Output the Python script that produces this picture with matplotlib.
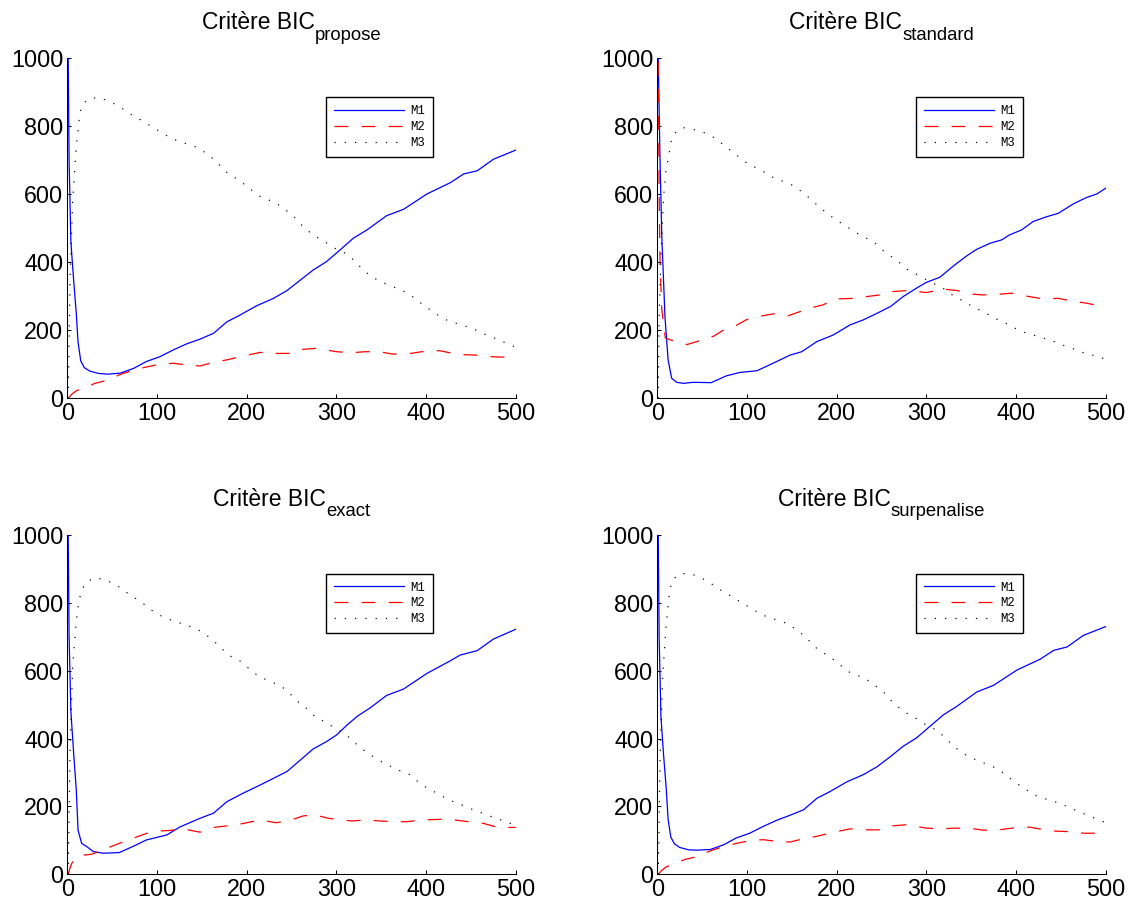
import matplotlib
matplotlib.use("Agg")
import matplotlib.pyplot as plt
from matplotlib.transforms import IdentityTransform

plt.rcParams['font.family'] = ['Liberation Sans', 'DejaVu Sans']
plt.rcParams['lines.scale_dashes'] = False

# --- BIC propose ---
propose_m1_x = [1, 2, 4, 7, 10, 12, 15, 19, 25, 35, 45, 59, 74, 88, 103, 118, 133, 148, 163, 178, 192, 211,
                230, 245, 260, 274, 289, 304, 319, 334, 356, 375, 401, 427, 442, 457, 475, 500]
propose_m1_y = [1000, 700, 460, 350, 250, 165, 110, 90, 80, 73, 71, 74, 88, 108, 122, 142, 160, 174, 191, 225, 244, 272,
                294, 317, 348, 377, 402, 436, 471, 495, 537, 556, 601, 634, 660, 669, 703, 730]
propose_m2_x = [1, 5, 10, 16, 31, 46, 59, 74, 88, 103, 118, 133, 148, 163, 178, 194, 215, 233, 248, 263, 278,
                300, 317, 332, 348, 363, 378, 395, 415, 434, 445, 456, 475, 500]
propose_m2_y = [0, 12, 22, 28, 44, 54, 70, 83, 92, 100, 103, 98, 95, 106, 113, 123, 135, 132, 132, 144, 147,
                137, 134, 137, 137, 130, 130, 137, 140, 130, 128, 127, 122, 120]
propose_m3_x = [1, 3, 6, 10, 14, 17, 24.5, 36, 47, 57, 66, 75, 85, 95, 104, 114, 125, 135, 146, 155, 165, 173, 181,
                191, 200, 213, 223, 233, 252, 259, 268, 278, 287, 297, 312, 321, 329, 338, 347, 359, 369, 380, 390,
                399, 412, 421, 432, 443, 455, 466, 477, 488, 500]
propose_m3_y = [0, 338, 583, 740, 838, 865, 882, 884, 873, 860, 844, 828, 815, 797, 784, 767, 755, 747, 737, 720, 700,
                676, 657, 643, 624, 596, 585, 574, 537, 515, 493, 474, 461, 443, 424, 402, 380, 360, 346, 332, 322,
                309, 289, 270, 247, 232, 222, 213, 201, 188, 176, 164, 150]

# --- BIC standard ---
standard_m1_x = [1, 3, 5, 8.5, 12, 16, 21.5, 29, 40, 60, 77, 92, 111, 129, 148, 161, 178, 196, 215, 230, 245, 260,
                 274, 289, 300, 315, 330, 345, 356, 371, 384, 393, 406, 419, 434, 447, 464, 478, 490, 500]
standard_m1_y = [1000, 700, 475, 240, 113, 59, 47, 44, 47, 46, 66, 76, 81, 103, 127, 137, 167, 186, 216, 231, 250,
                 270, 299, 324, 341, 356, 389, 419, 438, 456, 466, 481, 495, 520, 534, 544, 572, 590, 601, 618]
standard_m2_x = [1, 2, 3, 5, 9, 20, 33, 48, 63, 74, 87, 100, 118, 133, 146, 157, 170, 185, 198, 219, 233, 248, 263,
                 280, 300, 319, 334, 348, 363, 380, 395, 415, 431, 447, 464, 478, 500]
standard_m2_y = [990, 600, 400, 260, 177, 167, 158, 170, 183, 201, 213, 232, 243, 250, 243, 253, 265, 275, 292, 294,
                 299, 304, 314, 317, 311, 321, 317, 307, 304, 306, 309, 299, 292, 294, 285, 280, 268]
standard_m3_x = [1, 2, 4, 7, 10, 13, 14, 17, 23, 29, 38, 49, 59, 68, 77, 86, 94, 103, 114, 124, 133, 142, 152, 161,
                 170, 178, 186, 196, 204, 214, 223, 233, 243, 251, 260, 270, 278, 287, 297, 306, 314, 323, 331, 343,
                 352, 364, 373, 382, 391, 401, 412, 423, 434, 446, 456, 468, 477, 488, 500]
standard_m3_y = [0, 240, 417, 593, 681, 711, 742, 772, 789, 796, 792, 785, 774, 758, 738, 721, 703, 686, 674, 657,
                 644, 637, 625, 608, 588, 569, 551, 531, 517, 500, 485, 471, 456, 436, 419, 399, 380, 368, 353, 340,
                 330, 317, 299, 284, 268, 254, 240, 228, 218, 203, 191, 183, 174, 164, 152, 142, 132, 125, 115]

# --- BIC exact ---
exact_m1_x = [1, 2, 4, 7, 10, 12, 16, 21.5, 29, 40, 58, 74, 88, 111, 126, 148, 163, 178, 196, 215, 230, 245, 260,
              274, 289, 300, 312, 323, 338, 356, 375, 401, 427, 438, 457, 475, 500]
exact_m1_y = [1000, 700, 480, 360, 250, 130, 91, 82, 67, 62, 64, 83, 101, 116, 140, 165, 180, 214, 239, 263, 283,
              303, 337, 369, 391, 410, 440, 465, 491, 527, 546, 592, 629, 646, 659, 693, 722]
exact_m2_x = [1, 3, 5, 8.5, 13, 27, 40, 55, 68, 92, 105, 114, 129, 148, 163, 176, 193, 215, 233, 246, 263, 276, 291,
              317, 332, 349, 364, 378, 395, 416, 432, 447, 464, 479, 490, 500]
exact_m2_y = [0, 18, 32, 47, 55, 59, 72, 88, 101, 124, 128, 129, 134, 124, 138, 142, 148, 160, 152, 157, 172, 175,
              165, 157, 160, 157, 155, 155, 160, 162, 160, 155, 150, 139, 138, 138]
exact_m3_x = [1, 3, 6, 10, 13, 16, 21, 30, 40, 51, 60, 70, 79, 88, 97, 105, 114, 125, 135, 145, 155, 164, 173, 181,
              191, 200, 213, 223, 233, 243, 251, 259, 269, 277, 287, 297, 311, 320, 329, 339, 349, 359, 369, 380,
              389, 399, 410, 422, 433, 445, 456, 467, 477, 488, 500]
exact_m3_y = [0, 350, 617, 745, 804, 838, 860, 874, 869, 858, 843, 823, 808, 791, 772, 761, 751, 741, 732, 722, 705,
              686, 663, 644, 632, 612, 584, 572, 561, 546, 525, 504, 484, 462, 450, 433, 411, 389, 369, 350, 334,
              320, 307, 297, 277, 258, 242, 224, 211, 199, 186, 177, 165, 157, 143]

# --- BIC surpenalise ---
surpen_m1_x = [1, 2, 4, 7, 10, 12, 15, 19, 25, 35, 45, 59, 74, 88, 103, 118, 133, 148, 163, 178, 192, 211,
               230, 245, 260, 274, 289, 304, 319, 334, 356, 375, 401, 427, 442, 457, 475, 500]
surpen_m1_y = [1000, 700, 465, 350, 250, 162, 110, 90, 79, 72, 71, 73, 87, 107, 121, 141, 159, 174, 190, 224, 243,
               272, 294, 317, 347, 377, 402, 436, 470, 495, 537, 557, 602, 634, 660, 670, 704, 730]
surpen_m2_x = [1, 5, 10, 16, 31, 46, 59, 74, 88, 103, 118, 133, 148, 163, 178, 194, 215, 233, 248, 263, 278,
               300, 317, 332, 348, 363, 378, 395, 415, 434, 445, 456, 475, 500]
surpen_m2_y = [0, 12, 22, 28, 44, 53, 69, 82, 91, 99, 102, 97, 95, 105, 112, 122, 134, 131, 131, 143, 146,
               136, 134, 136, 136, 130, 130, 136, 139, 130, 127, 126, 121, 121]
surpen_m3_x = [1, 3, 6, 10, 14, 17, 24.5, 36, 47, 57, 66, 75, 85, 95, 104, 114, 125, 135, 146, 155, 165, 173, 181,
               191, 200, 213, 223, 233, 252, 259, 268, 278, 287, 297, 312, 321, 329, 338, 347, 359, 369, 380, 390,
               399, 412, 421, 432, 443, 455, 466, 477, 488, 500]
surpen_m3_y = [0, 340, 585, 742, 840, 868, 885, 887, 876, 862, 846, 830, 816, 798, 785, 768, 756, 748, 738, 720, 701,
               677, 658, 644, 625, 597, 586, 575, 538, 516, 494, 475, 462, 444, 424, 402, 381, 361, 347, 333, 323,
               310, 290, 271, 248, 233, 223, 214, 202, 189, 177, 165, 152]

labels = ['M1', 'M2', 'M3']
x_ticks = [0, 100, 200, 300, 400, 500]
y_ticks = [0, 200, 400, 600, 800, 1000]

panels = [
    ('propose', [0.0595, 0.5628, 0.3965, 0.3732],
     [(propose_m1_x, propose_m1_y), (propose_m2_x, propose_m2_y), (propose_m3_x, propose_m3_y)]),
    ('standard', [0.5812, 0.5628, 0.3965, 0.3732],
     [(standard_m1_x, standard_m1_y), (standard_m2_x, standard_m2_y), (standard_m3_x, standard_m3_y)]),
    ('exact', [0.0595, 0.0403, 0.3965, 0.3725],
     [(exact_m1_x, exact_m1_y), (exact_m2_x, exact_m2_y), (exact_m3_x, exact_m3_y)]),
    ('surpenalise', [0.5812, 0.0403, 0.3965, 0.3725],
     [(surpen_m1_x, surpen_m1_y), (surpen_m2_x, surpen_m2_y), (surpen_m3_x, surpen_m3_y)]),
]


def add_title(fig, ax, main, sub):
    # title with a bigger subscript than mathtext allows, placed in pixels
    renderer = fig.canvas.get_renderer()
    box = ax.get_window_extent(renderer)
    xc = (box.x0 + box.x1) / 2
    yb = box.y1 + 29
    t1 = fig.text(0, yb, main, fontsize=16.5, va='baseline', ha='left', transform=IdentityTransform())
    t2 = fig.text(0, yb - 10.5, sub, fontsize=13.3, va='baseline', ha='left', transform=IdentityTransform())
    w1 = t1.get_window_extent(renderer).width
    w2 = t2.get_window_extent(renderer).width
    x0 = xc - (w1 + w2) / 2
    t1.set_x(x0)
    t2.set_x(x0 + w1)


def plot_panel(fig, rect, name, series):
    ax = fig.add_axes(rect)
    (x1, y1), (x2, y2), (x3, y3) = series
    ax.plot(x1, y1, color='#0000ff', lw=0.9, label=labels[0])
    ax.plot(x2, y2, color='#ff0000', lw=0.9, linestyle=(0, (10, 9.5)), label=labels[1])
    ax.plot(x3, y3, color='black', lw=0.85, linestyle=(0, (0.9, 6.5)), label=labels[2])

    ax.set_xlim(0, 500)
    ax.set_ylim(0, 1000)
    ax.set_xticks(x_ticks)
    ax.set_yticks(y_ticks)
    ax.tick_params(direction='in', length=3, width=0.75, labelsize=16.8, pad=3)
    for side in ('top', 'right'):
        ax.spines[side].set_visible(False)
    for side in ('left', 'bottom'):
        ax.spines[side].set_linewidth(0.75)

    add_title(fig, ax, 'Critère BIC', name)

    leg = ax.legend(loc='upper left', bbox_to_anchor=(0.577, 0.886), borderaxespad=0,
                    prop={'family': 'Liberation Mono', 'size': 8.8},
                    handlelength=5.7, handletextpad=0.55, labelspacing=0.32,
                    borderpad=0.65, fancybox=False, framealpha=1)
    leg.get_frame().set_edgecolor('black')
    leg.get_frame().set_linewidth(1.0)
    return ax


fig = plt.figure(figsize=(11.31, 9.11), dpi=100)
for name, rect, series in panels:
    plot_panel(fig, rect, name, series)

fig.savefig('out.png', dpi=100)
